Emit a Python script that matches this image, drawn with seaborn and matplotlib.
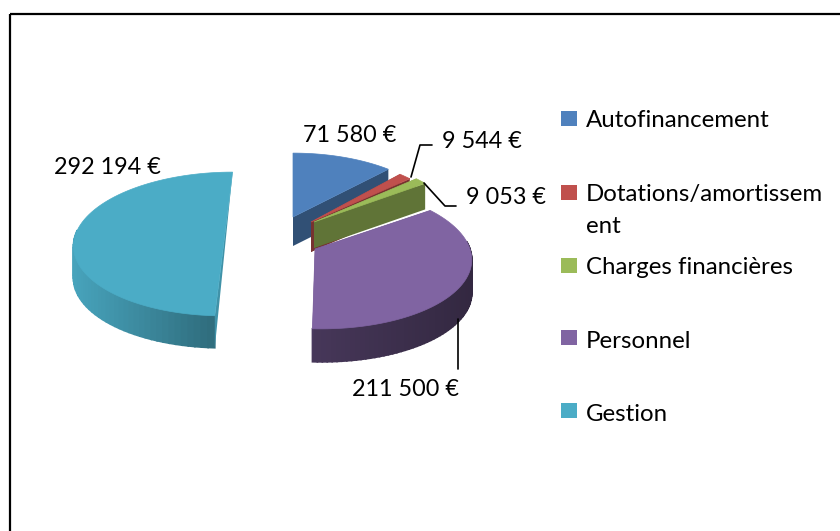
import numpy as np
import matplotlib
matplotlib.use('Agg')
import matplotlib.pyplot as plt
from matplotlib.patches import Rectangle
import seaborn as sns

categories = ['Autofinancement', 'Dotations/amortissem\nent', 'Charges financières', 'Personnel', 'Gestion']
values = [71580, 9544, 9053, 211500, 292194]
value_labels = ['71 580 €', '9 544 €', '9 053 €', '211 500 €', '292 194 €']

sns.set_theme(style='white')
plt.rcParams['font.family'] = ['Lato', 'DejaVu Sans']
palette = sns.color_palette(['#4F81BD', '#C0504D', '#9BBB59', '#8064A2', '#4BACC6'])

# layout of the exploded 3d pie, in pixels
apex_x = [293, 311, 314, 315, 228]
apex_y = [217, 222, 222, 249, 236]
radius = [150, 140, 145, 155, 153]
depth = [29, 30, 26, 33, 32]
shear = [0, 0, 0, -0.04, 0.03]
wall_left = [0.62, 0.55, 0.55, 0.55, 0.95]
wall_right = [0.62, 0.55, 0.55, 0.40, 0.58]
squash = 71
persp = 0.111

fig = plt.figure(figsize=(8.4, 5.31), dpi=100)
ax = fig.add_axes([0, 0, 1, 1])

# angles come from pie, the perspective is done by hand below
wedges, _ = ax.pie(values, startangle=90, counterclock=False)
angles = [(w.theta1, w.theta2) for w in wedges]
for w in wedges:
    w.remove()
ax.set_aspect('auto')
ax.set_xlim(0, 840)
ax.set_ylim(531, 0)
ax.axis('off')


def project(i, r, t):
    u = r * np.cos(np.radians(t))
    v = r * np.sin(np.radians(t))
    s = 1 + persp * v
    x = apex_x[i] + radius[i] * u / s + shear[i] * radius[i] * v
    y = apex_y[i] - squash * v / s
    return x, y


for i, (t1, t2) in enumerate(angles):
    color = np.array(palette[i])
    ts = np.linspace(t1, t2, 80)
    xs, ys = project(i, 1, ts)
    ax_x, ax_y = project(i, 0, t1)
    d = depth[i]
    x_lo, x_hi = xs.min(), xs.max()

    # outer wall, small strips for the shading, only the front shows
    for j in range(len(ts) - 1):
        if np.sin(np.radians(ts[j])) > 0.1:
            continue
        frac = (xs[j] - x_lo) / max(x_hi - x_lo, 1)
        shade = wall_left[i] + (wall_right[i] - wall_left[i]) * frac
        ax.fill([xs[j], xs[j + 1], xs[j + 1], xs[j]],
                [ys[j], ys[j + 1], ys[j + 1] + d, ys[j] + d],
                color=color * shade, lw=1.2, zorder=i * 3 + 1)

    # cut faces
    if i == 4:
        # thin sliver down the straight edge
        ax.fill([xs[0], xs[-1], xs[-1]], [ys[0], ys[-1], ys[-1] + d],
                color=color * 0.85, lw=0, zorder=i * 3 + 1)
        # nearly half the pie, its edge is one straight line in the picture
        ax.fill(xs, ys, color=color, lw=0.5, zorder=i * 3 + 2)
    else:
        for k in [0, -1]:
            ax.fill([ax_x, xs[k], xs[k], ax_x],
                    [ax_y, ys[k], ys[k] + d, ax_y + d],
                    color=color * 0.62, lw=0, zorder=i * 3 + 1)
        # top face
        ax.fill(np.r_[ax_x, xs], np.r_[ax_y, ys], color=color, lw=0.5, zorder=i * 3 + 2)

# chart frame, runs off the picture on the right and bottom
ax.add_patch(Rectangle((9.5, 14), 900, 600, fill=False, ec='black', lw=1.6, zorder=20))

# leader lines
ax.plot([411, 420, 432], [177, 145, 145], color='black', lw=1.2, zorder=21)
ax.plot([424, 445, 456], [183, 206, 206], color='black', lw=1.2, zorder=21)
ax.plot([458, 458], [319, 369], color='black', lw=1.2, zorder=21)

label_x = [350, 482, 506, 405, 107]
label_y = [135, 141, 198, 389, 167]
for lab, x, y in zip(value_labels, label_x, label_y):
    ax.text(x, y, lab, ha='center', va='center', fontsize=16.8, color='black', zorder=22)

# legend
legend_y = [118, 192, 265, 337, 410]
text_y = [120.5, 210.5, 267.5, 341.5, 414.5]
for cat, c, y, ty in zip(categories, palette, legend_y, text_y):
    ax.add_patch(Rectangle((561, y - 7.5), 16, 15, color=c, lw=0, zorder=22))
    ax.text(586, ty, cat, ha='left', va='center', fontsize=17.3, color='black',
            linespacing=1.62, zorder=22)

fig.savefig('out.png', dpi=100)
